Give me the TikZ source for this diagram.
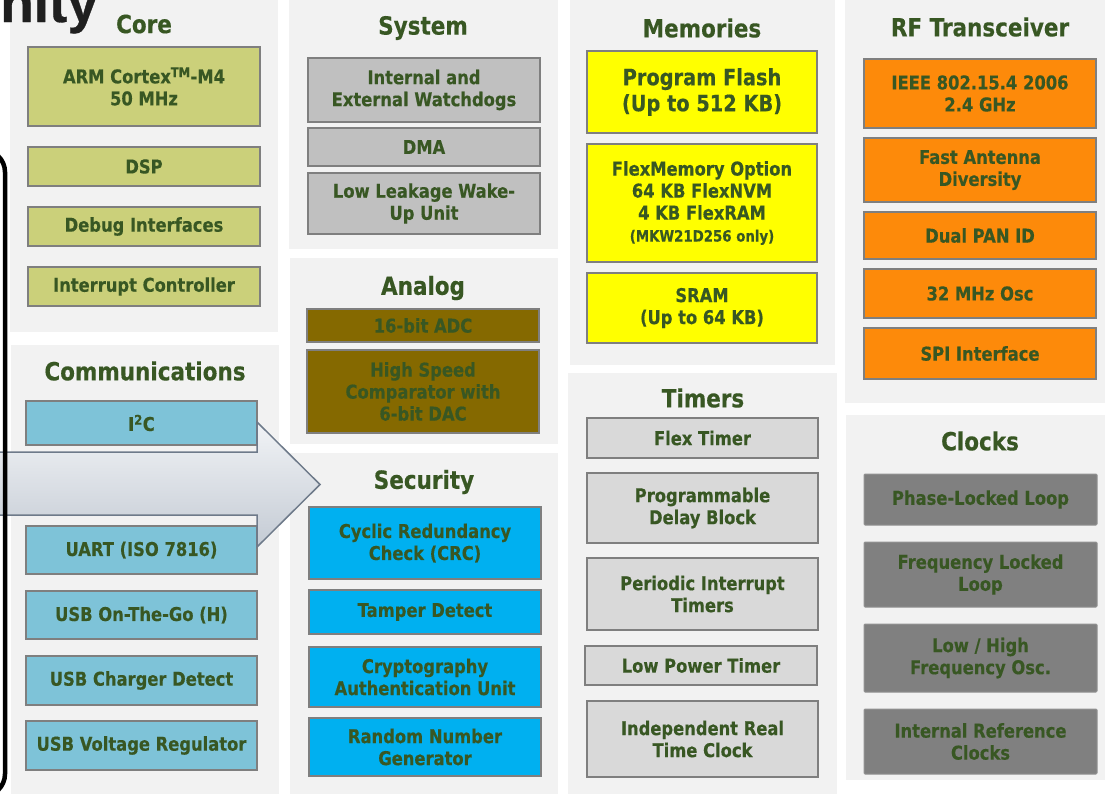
\documentclass[tikz,border=0pt]{standalone}
\usepackage{fontspec}
\newfontfamily\blkfont{DejaVu Sans}[FakeStretch=0.86,BoldFeatures={FakeBold=0.35}]
\newfontfamily\headfont{Liberation Sans}[BoldFeatures={FakeBold=0.6}]

\definecolor{panelgray}{RGB}{242,242,242}
\definecolor{edgegray}{RGB}{127,127,127}
\definecolor{txtgreen}{RGB}{56,87,35}
\definecolor{corefill}{RGB}{203,208,122}
\definecolor{commfill}{RGB}{126,195,216}
\definecolor{sysfill}{RGB}{192,192,192}
\definecolor{anafill}{RGB}{133,105,0}
\definecolor{secfill}{RGB}{0,176,240}
\definecolor{memfill}{RGB}{255,255,0}
\definecolor{rffill}{RGB}{253,138,10}
\definecolor{timfill}{RGB}{217,217,217}
\definecolor{clkfill}{RGB}{128,128,128}
\definecolor{arrtop}{RGB}{241,243,246}
\definecolor{arrbot}{RGB}{196,203,212}
\definecolor{arredge}{RGB}{110,122,138}

\tikzset{
  panel/.style={fill=panelgray,draw=none},
  title/.style={text=txtgreen,inner sep=0pt,font=\blkfont\bfseries\fontsize{25}{28}\selectfont},
  blk/.style={draw=edgegray,line width=2.5pt,text=txtgreen,align=center,inner sep=0pt,
    font=\blkfont\bfseries\fontsize{19}{22}\selectfont},
  sz/.style 2 args={minimum width=#1,minimum height=#2},
  corebox/.style={blk,fill=corefill},
  commbox/.style={blk,fill=commfill},
  sysbox/.style={blk,fill=sysfill},
  anabox/.style={blk,fill=anafill},
  secbox/.style={blk,fill=secfill},
  membox/.style={blk,fill=memfill},
  rfbox/.style={blk,fill=rffill},
  timbox/.style={blk,fill=timfill},
  clkbox/.style={blk,fill=clkfill,draw=clkfill!85!white,line width=1pt,rounded corners=1pt}
}

\begin{document}
\begin{tikzpicture}[x=1pt,y=-1pt]
\useasboundingbox (0,0) rectangle (1105,793);
\clip (0,0) rectangle (1105,793);

% panels
\fill[panel] (10,-5) rectangle (278,332);
\fill[panel] (11,345) rectangle (279,800);
\fill[panel] (289,-5) rectangle (558,249);
\fill[panel] (290,258) rectangle (558,444);
\fill[panel] (290,453) rectangle (558,800);
\fill[panel] (570,-5) rectangle (835,365);
\fill[panel] (568,373) rectangle (837,800);
\fill[panel] (845,-5) rectangle (1110,403);
\fill[panel] (846,415) rectangle (1110,780);

% core
\node[title] (coret) at (144,24) {Core};
\node[corebox,sz={232}{79}] (arm) at (144,86.5) {ARM Cortex\textsuperscript{TM}-M4\\50 MHz};
\node[corebox,sz={232}{39}] (dsp) at (144,166.5) {DSP};
\node[corebox,sz={232}{39}] (dbg) at (144,226.5) {Debug Interfaces};
\node[corebox,sz={232}{39}] (irq) at (144,286.5) {Interrupt Controller};

% communications
\node[title] (commt) at (145,371) {Communications};
\node[commbox,sz={231}{44}] (i2c) at (141.5,423) {I\textsuperscript{2}C};
\node[commbox,sz={231}{48}] (uart) at (141.5,550) {UART (ISO 7816)};
\node[commbox,sz={231}{48}] (otg) at (141.5,615) {USB On-The-Go (H)};
\node[commbox,sz={231}{49}] (chg) at (141.5,680.5) {USB Charger Detect};
\node[commbox,sz={231}{49}] (vreg) at (141.5,745.5) {USB Voltage Regulator};

% system
\node[title] (syst) at (423,28) {System};
\node[sysbox,sz={232}{64}] (wdog) at (424,90) {Internal and\\External Watchdogs};
\node[sysbox,sz={232}{38}] (dma) at (424,147) {DMA};
\node[sysbox,sz={232}{61}] (llwu) at (424,203.5) {Low Leakage Wake-\\Up Unit};

% analog
\node[title] (anat) at (423,288) {Analog};
\node[anabox,sz={232}{33}] (adc) at (423,325.5) {16-bit ADC};
\node[anabox,sz={232}{83}] (cmp) at (423,391.5) {High Speed\\Comparator with\\6-bit DAC};

% security
\node[title] (sect) at (424,482) {Security};
\node[secbox,sz={232}{72}] (crc) at (425,543) {Cyclic Redundancy\\Check (CRC)};
\node[secbox,sz={232}{44}] (tamper) at (425,612) {Tamper Detect};
\node[secbox,sz={232}{60}] (cau) at (425,677) {Cryptography\\Authentication Unit};
\node[secbox,sz={232}{58}] (rng) at (425,747) {Random Number\\Generator};

% memories
\node[title] (memt) at (702,28) {Memories};
\node[membox,sz={230}{82},font=\blkfont\bfseries\fontsize{22.5}{26}\selectfont] (pflash) at (702,92) {Program Flash\\(Up to 512 KB)};
\node[membox,sz={230}{118}] (flexmem) at (702,203) {FlexMemory Option\\64 KB FlexNVM\\4 KB FlexRAM\\{\fontsize{15.5}{21}\selectfont (MKW21D256 only)}};
\node[membox,sz={230}{70}] (sram) at (702,308) {SRAM\\(Up to 64 KB)};

% rf transceiver
\node[title] (rft) at (980,27) {RF Transceiver};
\node[rfbox,sz={232}{69}] (ieee) at (980,93.5) {IEEE 802.15.4 2006\\2.4 GHz};
\node[rfbox,sz={232}{64}] (fad) at (980,170) {Fast Antenna\\Diversity};
\node[rfbox,sz={232}{47}] (pan) at (980,235.5) {Dual PAN ID};
\node[rfbox,sz={232}{49}] (osc) at (980,293.5) {32 MHz Osc};
\node[rfbox,sz={232}{51}] (spi) at (980,353.5) {SPI Interface};

% timers
\node[title] (timt) at (703,398) {Timers};
\node[timbox,sz={231}{40}] (ftm) at (702.5,438) {Flex Timer};
\node[timbox,sz={231}{70}] (pdb) at (702.5,508) {Programmable\\Delay Block};
\node[timbox,sz={231}{72}] (pit) at (702.5,594) {Periodic Interrupt\\Timers};
\node[timbox,sz={232}{39}] (lpt) at (701,665.5) {Low Power Timer};
\node[timbox,sz={231}{76}] (rtc) at (702.5,739) {Independent Real\\Time Clock};

% clocks
\node[title] (clkt) at (980,441) {Clocks};
\node[clkbox,sz={233}{51}] (pll) at (980.5,499.5) {Phase-Locked Loop};
\node[clkbox,sz={233}{65}] (fll) at (980.5,574.5) {Frequency Locked\\Loop};
\node[clkbox,sz={233}{68}] (lhosc) at (980.5,658) {Low / High\\Frequency Osc.};
\node[clkbox,sz={233}{65}] (irc) at (980.5,741.5) {Internal Reference\\Clocks};

% big arrow
\shadedraw[top color=arrtop,bottom color=arrbot,draw=arredge,line width=1.5pt,line join=miter]
  (-5,452) -- (257,452) -- (257,422) -- (320,484.5) -- (257,547) -- (257,515) -- (-5,515) -- cycle;

% frame on the left
\draw[line width=4.5pt,rounded corners=22pt] (-100,150) rectangle (5,796);

% heading
\node[anchor=base west,inner sep=0pt,text=black!88,
  font=\headfont\bfseries\fontsize{55}{55}\selectfont] (nity) at (0,22) {nity};
\end{tikzpicture}
\end{document}
